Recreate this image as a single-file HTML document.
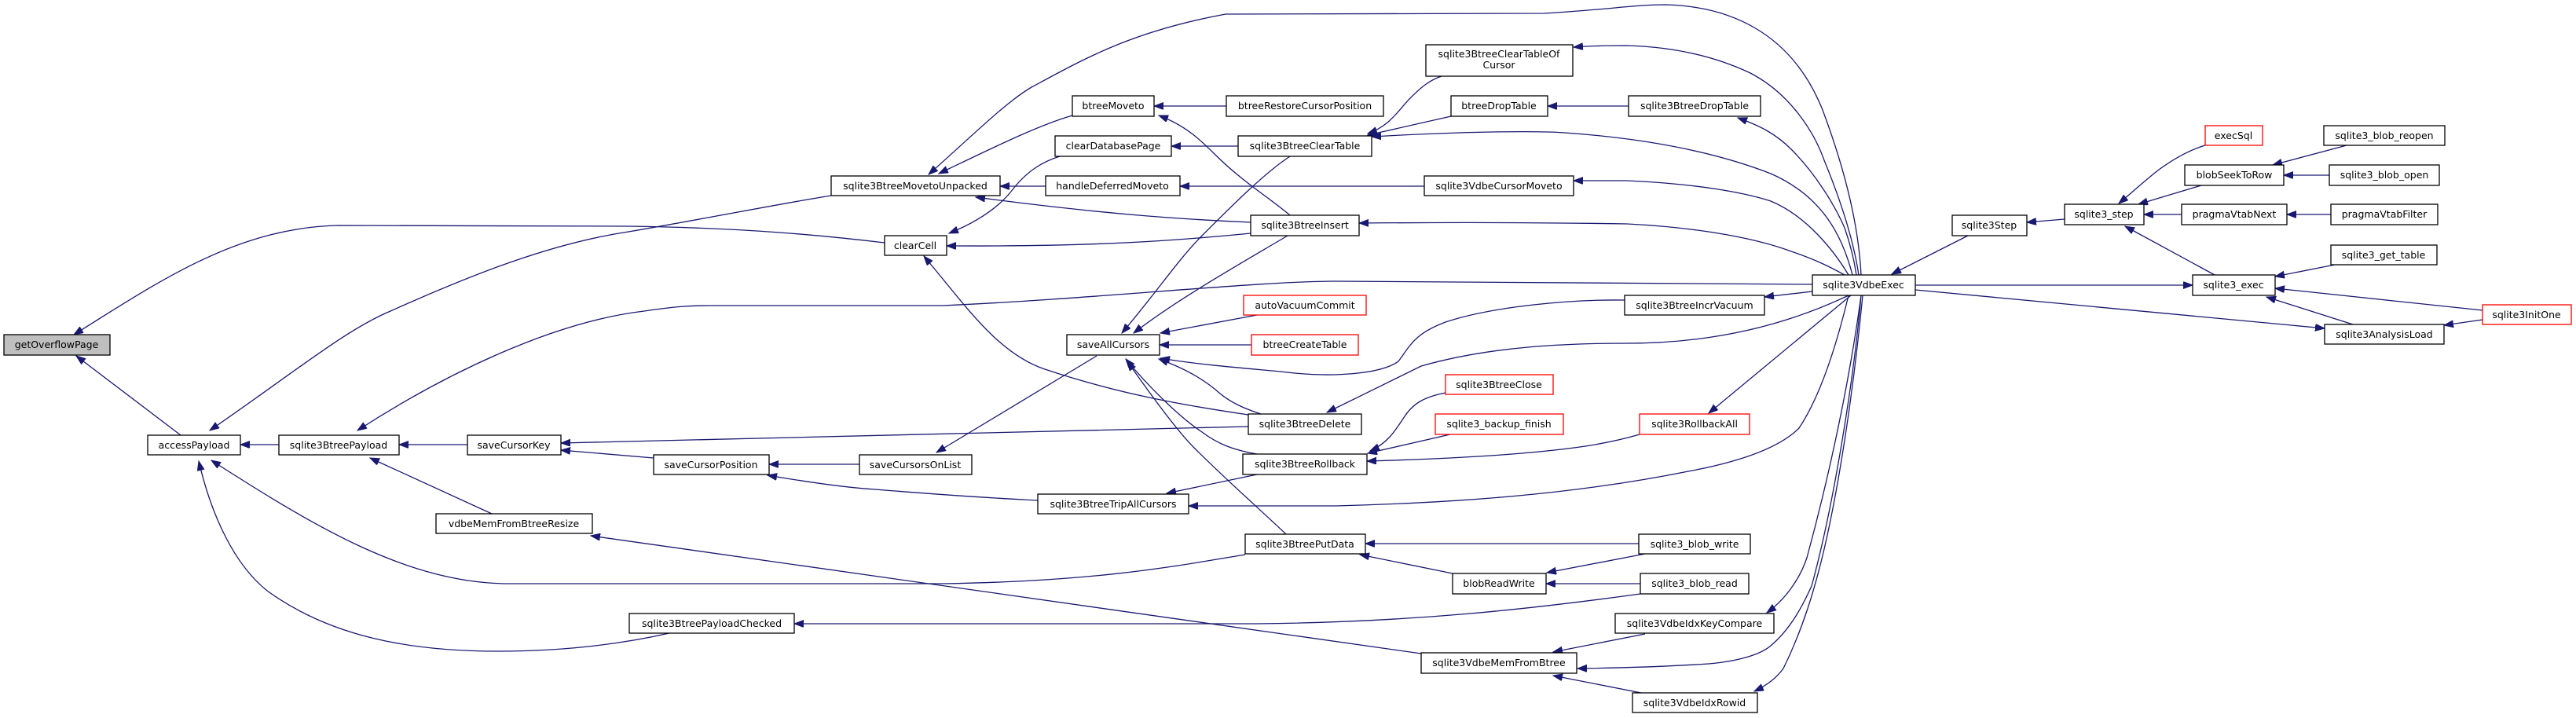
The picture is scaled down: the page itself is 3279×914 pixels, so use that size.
<!DOCTYPE html>
<html><head><meta charset="utf-8"><style>
html,body{margin:0;padding:0;background:#fff;}
svg{display:block;}
text{font-family:"DejaVu Sans","Liberation Sans",sans-serif;font-size:12.5px;text-anchor:middle;fill:#000;}
.e{fill:none;stroke:#191970;stroke-width:1.3;marker-start:url(#a);}
.n{fill:#fff;stroke:#000;stroke-width:1.3;}
.r{fill:#fff;stroke:#ff0000;stroke-width:1.3;}
</style></head><body>
<svg width="3279" height="914" viewBox="0 0 3279 914" xmlns="http://www.w3.org/2000/svg">
<defs><marker id="a" markerUnits="userSpaceOnUse" markerWidth="13" markerHeight="10" refX="12" refY="4.5" orient="auto-start-reverse"><path d="M0,0 L12,4.5 L0,9 z" fill="#191970" stroke="#191970"/></marker></defs>
<!-- edges -->
<path class="e" d="M94,426 C200,360 300,290 430,287 L800,288 C950,290 1050,300 1126,309"/>
<path class="e" d="M97,453 L230,554"/>
<path class="e" d="M267,548 C380,470 440,420 497,396 C600,350 700,310 800,295 C900,278 1000,258 1058,249"/>
<path class="e" d="M306,566 L355,566"/>
<path class="e" d="M269,586 C400,670 520,743 648,743 L1200,743 C1400,740 1500,720 1585,706"/>
<path class="e" d="M253,587 C270,660 300,720 340,752 C420,810 520,829 633,829 C720,829 790,820 852,806"/>
<path class="e" d="M455,548 C560,480 700,410 820,396 C860,390 880,389 905,389 L1200,389 C1400,380 1600,358 1700,358 L2307,362"/>
<path class="e" d="M471,583 L626,654"/>
<path class="e" d="M508,566 L595,566"/>
<path class="e" d="M714,564 L1589,543"/>
<path class="e" d="M714,573 L832,583"/>
<path class="e" d="M752,682 L1809,832"/>
<path class="e" d="M1011,794 L1600,794 C1800,792 1950,775 2088,756"/>
<path class="e" d="M1182,222 C1230,180 1280,130 1313,111 C1380,75 1440,40 1560,18 L1966,17 C2050,12 2080,6 2120,6 C2200,8 2280,40 2320,140 C2350,220 2366,290 2369,350"/>
<path class="e" d="M1195,221 C1260,190 1320,160 1365,147"/>
<path class="e" d="M1273,237 L1331,237"/>
<path class="e" d="M1242,251 C1400,272 1500,279 1592,283"/>
<path class="e" d="M1469,135 L1561,135"/>
<path class="e" d="M1475,147 C1510,160 1530,180 1548,198 C1580,230 1620,255 1642,274"/>
<path class="e" d="M1491,186 L1576,186"/>
<path class="e" d="M1208,297 C1250,280 1275,260 1290,240 C1310,215 1330,205 1349,199"/>
<path class="e" d="M1205,313 C1400,314 1500,306 1592,297"/>
<path class="e" d="M1176,326 C1230,390 1270,450 1330,470 C1420,500 1500,515 1589,528"/>
<path class="e" d="M1428,424 C1470,375 1500,330 1530,300 C1570,260 1610,220 1642,199"/>
<path class="e" d="M1443,424 C1500,380 1580,335 1639,300"/>
<path class="e" d="M1477,424 L1600,401"/>
<path class="e" d="M1476,439 L1593,439"/>
<path class="e" d="M1477,456 C1530,465 1600,470 1630,473 C1700,482 1760,475 1780,460 C1795,440 1800,425 1840,410 C1900,390 2000,381 2068,382"/>
<path class="e" d="M1475,457 C1500,466 1530,480 1553,501 C1570,515 1590,522 1605,527"/>
<path class="e" d="M1433,457 C1460,490 1500,530 1530,550 C1550,565 1570,573 1600,578"/>
<path class="e" d="M1435,460 C1470,510 1500,550 1520,570 C1560,610 1600,645 1637,680"/>
<path class="e" d="M1192,576 L1396,453"/>
<path class="e" d="M979,591 L1094,591"/>
<path class="e" d="M977,605 C1030,614 1080,621 1114,623 C1200,630 1280,635 1321,637"/>
<path class="e" d="M1485,628 L1600,604"/>
<path class="e" d="M1513,644 L1700,644 C1850,640 2000,630 2149,600 C2230,585 2270,565 2290,545 C2320,500 2340,430 2353,376"/>
<path class="e" d="M1741,170 C1770,160 1780,140 1795,125 C1810,110 1820,102 1835,97"/>
<path class="e" d="M1741,172 L1847,148"/>
<path class="e" d="M1746,174 C1850,168 1950,166 1992,169 C2120,178 2200,200 2254,221 C2320,250 2345,300 2358,350"/>
<path class="e" d="M2003,60 C2030,58 2050,58 2071,58 C2140,60 2190,75 2228,93 C2280,120 2310,170 2322,204 C2345,260 2360,310 2366,350"/>
<path class="e" d="M1970,135 L2073,135"/>
<path class="e" d="M2212,150 C2240,160 2260,170 2280,190 C2310,220 2335,260 2348,290 C2355,310 2360,330 2363,350"/>
<path class="e" d="M2003,230 C2030,230 2050,230 2071,230 C2160,234 2220,245 2254,256 C2300,275 2335,320 2353,350"/>
<path class="e" d="M1502,237 L1813,237"/>
<path class="e" d="M1730,284 C1850,283 1950,283 2071,285 C2170,290 2240,305 2280,320 C2310,330 2330,340 2348,350"/>
<path class="e" d="M2246,378 L2307,371"/>
<path class="e" d="M1689,525 C1730,505 1780,480 1809,466 C1900,440 2000,437 2071,437 C2150,437 2250,425 2353,376"/>
<path class="e" d="M1744,574 C1765,565 1775,550 1788,530 C1800,512 1815,505 1840,500"/>
<path class="e" d="M1741,577 L1846,553"/>
<path class="e" d="M1740,587 C1850,584 1950,578 2018,568 C2050,563 2070,558 2087,553"/>
<path class="e" d="M2175,526 L2356,376"/>
<path class="e" d="M1738,692 L2086,692"/>
<path class="e" d="M1731,706 L1849,730"/>
<path class="e" d="M1969,729 L2094,705"/>
<path class="e" d="M1968,743 L2088,743"/>
<path class="e" d="M2249,780 C2270,765 2290,740 2300,710 C2330,600 2355,480 2369,376"/>
<path class="e" d="M1977,830 L2094,807"/>
<path class="e" d="M2008,851 C2080,850 2130,848 2175,845 C2210,842 2240,834 2254,822 C2280,800 2295,770 2306,746 C2335,640 2360,480 2369,376"/>
<path class="e" d="M1977,860 L2094,883"/>
<path class="e" d="M2233,880 C2250,872 2262,862 2270,851 C2295,800 2310,750 2322,699 C2345,600 2362,470 2371,376"/>
<path class="e" d="M2408,349 L2505,300"/>
<path class="e" d="M2580,283 L2628,279"/>
<path class="e" d="M2697,259 C2715,244 2730,230 2748,216 C2770,200 2790,190 2807,185"/>
<path class="e" d="M2722,260 L2802,236"/>
<path class="e" d="M2729,273 L2777,273"/>
<path class="e" d="M2705,288 L2819,350"/>
<path class="e" d="M2893,210 L2987,185"/>
<path class="e" d="M2907,223 L2965,223"/>
<path class="e" d="M2911,273 L2967,273"/>
<path class="e" d="M2896,352 L2972,337"/>
<path class="e" d="M2791,363 L2438,363"/>
<path class="e" d="M2896,367 L3160,395"/>
<path class="e" d="M2885,378 L2995,413"/>
<path class="e" d="M2959,418 L2438,369"/>
<path class="e" d="M3111,414 L3160,407"/>
<!-- nodes -->
<rect x="5" y="426" width="135" height="26" fill="#bfbfbf" stroke="#000" stroke-width="1.3"/><text x="72" y="443">getOverflowPage</text>
<rect class="n" x="188" y="554" width="118" height="25"/><text x="247" y="571">accessPayload</text>
<rect class="n" x="355" y="554" width="153" height="25"/><text x="431" y="571">sqlite3BtreePayload</text>
<rect class="n" x="595" y="554" width="119" height="25"/><text x="654" y="571">saveCursorKey</text>
<rect class="n" x="555" y="654" width="199" height="25"/><text x="654" y="671">vdbeMemFromBtreeResize</text>
<rect class="n" x="801" y="781" width="210" height="25"/><text x="906" y="798">sqlite3BtreePayloadChecked</text>
<rect class="n" x="1058" y="224" width="215" height="25"/><text x="1165" y="241">sqlite3BtreeMovetoUnpacked</text>
<rect class="n" x="1365" y="122" width="104" height="26"/><text x="1417" y="139">btreeMoveto</text>
<rect class="n" x="1343" y="173" width="148" height="26"/><text x="1417" y="190">clearDatabasePage</text>
<rect class="n" x="1331" y="224" width="171" height="25"/><text x="1416" y="241">handleDeferredMoveto</text>
<rect class="n" x="1126" y="300" width="79" height="25"/><text x="1165" y="317">clearCell</text>
<rect class="n" x="1358" y="426" width="118" height="26"/><text x="1417" y="443">saveAllCursors</text>
<rect class="n" x="832" y="579" width="147" height="25"/><text x="905" y="596">saveCursorPosition</text>
<rect class="n" x="1094" y="579" width="143" height="25"/><text x="1165" y="596">saveCursorsOnList</text>
<rect class="n" x="1321" y="629" width="192" height="25"/><text x="1417" y="646">sqlite3BtreeTripAllCursors</text>
<rect class="n" x="1815" y="57" width="187" height="40"/><text x="1908" y="73">sqlite3BtreeClearTableOf</text><text x="1908" y="87">Cursor</text>
<rect class="n" x="1561" y="122" width="200" height="26"/><text x="1661" y="139">btreeRestoreCursorPosition</text>
<rect class="n" x="1847" y="122" width="123" height="26"/><text x="1908" y="139">btreeDropTable</text>
<rect class="n" x="2073" y="122" width="168" height="26"/><text x="2157" y="139">sqlite3BtreeDropTable</text>
<rect class="n" x="1576" y="173" width="170" height="26"/><text x="1661" y="190">sqlite3BtreeClearTable</text>
<rect class="n" x="1813" y="224" width="190" height="25"/><text x="1908" y="241">sqlite3VdbeCursorMoveto</text>
<rect class="n" x="1592" y="274" width="138" height="26"/><text x="1661" y="291">sqlite3BtreeInsert</text>
<rect class="n" x="2307" y="350" width="131" height="26"/><text x="2372" y="367">sqlite3VdbeExec</text>
<rect class="r" x="1583" y="376" width="156" height="25"/><text x="1661" y="393">autoVacuumCommit</text>
<rect class="n" x="2068" y="376" width="178" height="25"/><text x="2157" y="393">sqlite3BtreeIncrVacuum</text>
<rect class="r" x="1593" y="426" width="136" height="26"/><text x="1661" y="443">btreeCreateTable</text>
<rect class="r" x="1840" y="477" width="137" height="25"/><text x="1908" y="494">sqlite3BtreeClose</text>
<rect class="n" x="1589" y="527" width="144" height="26"/><text x="1661" y="544">sqlite3BtreeDelete</text>
<rect class="r" x="1827" y="527" width="163" height="26"/><text x="1908" y="544">sqlite3_backup_finish</text>
<rect class="r" x="2087" y="527" width="140" height="26"/><text x="2157" y="544">sqlite3RollbackAll</text>
<rect class="n" x="1582" y="578" width="158" height="26"/><text x="1661" y="595">sqlite3BtreeRollback</text>
<rect class="n" x="1585" y="680" width="153" height="25"/><text x="1661" y="697">sqlite3BtreePutData</text>
<rect class="n" x="2086" y="680" width="142" height="25"/><text x="2157" y="697">sqlite3_blob_write</text>
<rect class="n" x="1849" y="730" width="119" height="26"/><text x="1908" y="747">blobReadWrite</text>
<rect class="n" x="2088" y="730" width="138" height="26"/><text x="2157" y="747">sqlite3_blob_read</text>
<rect class="n" x="2056" y="781" width="202" height="25"/><text x="2157" y="798">sqlite3VdbeIdxKeyCompare</text>
<rect class="n" x="1809" y="831" width="198" height="26"/><text x="1908" y="848">sqlite3VdbeMemFromBtree</text>
<rect class="n" x="2078" y="882" width="159" height="25"/><text x="2157" y="899">sqlite3VdbeIdxRowid</text>
<rect class="r" x="2807" y="160" width="73" height="25"/><text x="2843" y="177">execSql</text>
<rect class="n" x="2958" y="160" width="154" height="25"/><text x="3035" y="177">sqlite3_blob_reopen</text>
<rect class="n" x="2781" y="210" width="126" height="26"/><text x="2844" y="227">blobSeekToRow</text>
<rect class="n" x="2965" y="210" width="140" height="26"/><text x="3035" y="227">sqlite3_blob_open</text>
<rect class="n" x="2485" y="274" width="95" height="26"/><text x="2532" y="291">sqlite3Step</text>
<rect class="n" x="2628" y="260" width="101" height="26"/><text x="2678" y="277">sqlite3_step</text>
<rect class="n" x="2777" y="260" width="134" height="26"/><text x="2844" y="277">pragmaVtabNext</text>
<rect class="n" x="2967" y="260" width="136" height="26"/><text x="3035" y="277">pragmaVtabFilter</text>
<rect class="n" x="2967" y="312" width="135" height="25"/><text x="3034" y="329">sqlite3_get_table</text>
<rect class="n" x="2791" y="350" width="105" height="26"/><text x="2843" y="367">sqlite3_exec</text>
<rect class="r" x="3160" y="388" width="113" height="25"/><text x="3216" y="405">sqlite3InitOne</text>
<rect class="n" x="2959" y="413" width="152" height="25"/><text x="3035" y="430">sqlite3AnalysisLoad</text>
</svg>
</body></html>
